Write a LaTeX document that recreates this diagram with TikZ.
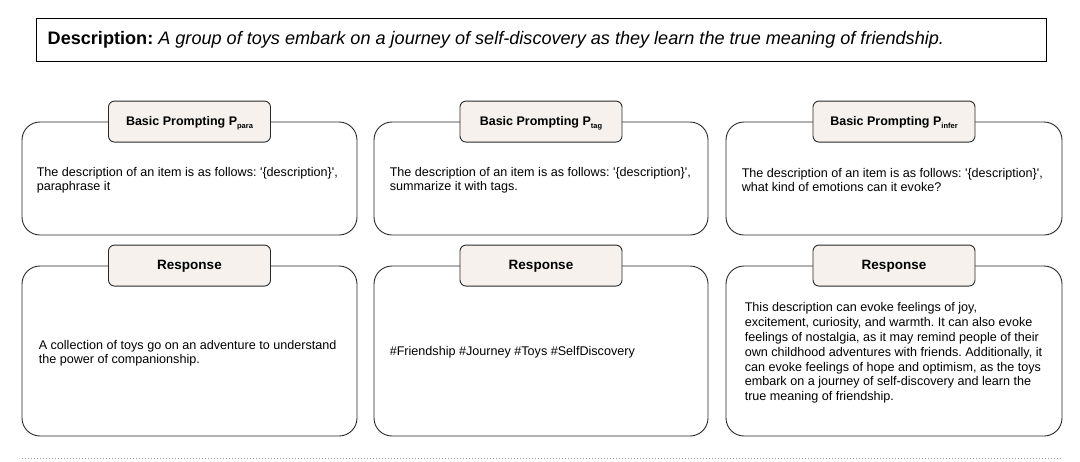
\documentclass[tikz,border=0pt]{standalone}
\usepackage{fontspec}
\setmainfont{Liberation Sans}
\definecolor{tabfill}{RGB}{246,241,236}
\definecolor{edge}{RGB}{40,40,40}
\newcommand{\subsc}[1]{\raisebox{-3pt}[0pt][0pt]{\fontsize{7.5}{8}\selectfont #1}}
\newcommand{\sq}{\textquotesingle}
\begin{document}
\frenchspacing
\begin{tikzpicture}[x=1pt,y=-1pt,
  bigbox/.style={draw=edge, line width=0.9pt, rounded corners=18pt, inner sep=0pt},
  tab/.style={draw=edge, line width=0.9pt, fill=tabfill, rounded corners=6pt,
    minimum width=162pt, minimum height=41pt, inner sep=0pt,
    text height=0.9em, text depth=0.2em,
    font=\bfseries\fontsize{12.5}{14}\selectfont},
  body/.style={align=left, anchor=west, inner sep=0pt, font=\fontsize{12.6}{14.5}\selectfont}
]
\useasboundingbox (0,0) rectangle (1080,461);
% description
\node[draw=black, line width=1pt, minimum width=1010pt, minimum height=43pt, inner sep=0pt] (desc) at (541,39.5) {};
\node[anchor=west, inner sep=0pt, font=\fontsize{18.1}{21}\selectfont] (desctext) at ([xshift=12pt,yshift=-0.5pt]desc.west)
  {\textbf{Description:} \textit{A group of toys embark on a journey of self-discovery as they learn the true meaning of friendship.}};
% top row
\node[bigbox, minimum width=335pt, minimum height=113pt] (p1) at (189.5,178.5) {};
\node[bigbox, minimum width=334pt, minimum height=113pt] (p2) at (541,178.5) {};
\node[bigbox, minimum width=336pt, minimum height=113pt] (p3) at (894,178.5) {};
\node[tab] (t1) at (p1.north) {Basic Prompting P\subsc{para}};
\node[tab] (t2) at (p2.north) {Basic Prompting P\subsc{tag}};
\node[tab] (t3) at (p3.north) {Basic Prompting P\subsc{infer}};
\node[body] (x1) at ([xshift=15pt,yshift=-1.5pt]p1.west) {The description of an item is as follows: \sq\{description\}\sq,\\paraphrase it};
\node[body] (x2) at ([xshift=16pt,yshift=-1.5pt]p2.west) {The description of an item is as follows: \sq\{description\}\sq,\\summarize it with tags.};
\node[body] (x3) at ([xshift=16pt,yshift=-1.5pt]p3.west) {The description of an item is as follows: \sq\{description\}\sq,\\what kind of emotions can it evoke?};
% bottom row
\node[bigbox, minimum width=335pt, minimum height=170pt] (r1) at (189.5,351) {};
\node[bigbox, minimum width=334pt, minimum height=170pt] (r2) at (541,351) {};
\node[bigbox, minimum width=336pt, minimum height=170pt] (r3) at (894,351) {};
\node[tab, font=\bfseries\fontsize{13.5}{15}\selectfont] (u1) at (r1.north) {Response};
\node[tab, font=\bfseries\fontsize{13.5}{15}\selectfont] (u2) at (r2.north) {Response};
\node[tab, font=\bfseries\fontsize{13.5}{15}\selectfont] (u3) at (r3.north) {Response};
\node[body] (y1) at ([xshift=17pt,yshift=-2pt]r1.west) {A collection of toys go on an adventure to understand\\the power of companionship.};
\node[body] (y2) at ([xshift=16pt,yshift=-1.5pt]r2.west) {\#Friendship \#Journey \#Toys \#SelfDiscovery};
\node[body, font=\fontsize{12.6}{14.8}\selectfont] (y3) at ([xshift=19pt,yshift=-2pt]r3.west) {This description can evoke feelings of joy,\\excitement, curiosity, and warmth. It can also evoke\\feelings of nostalgia, as it may remind people of their\\own childhood adventures with friends. Additionally, it\\can evoke feelings of hope and optimism, as the toys\\embark on a journey of self-discovery and learn the\\true meaning of friendship.};
% dotted separator
\coordinate (d1) at (22,458);
\coordinate (d2) at (1062,458);
\draw[gray!80, line width=0.6pt, dash pattern=on 0.6pt off 2.4pt] (d1) -- (d2);
\end{tikzpicture}
\end{document}
